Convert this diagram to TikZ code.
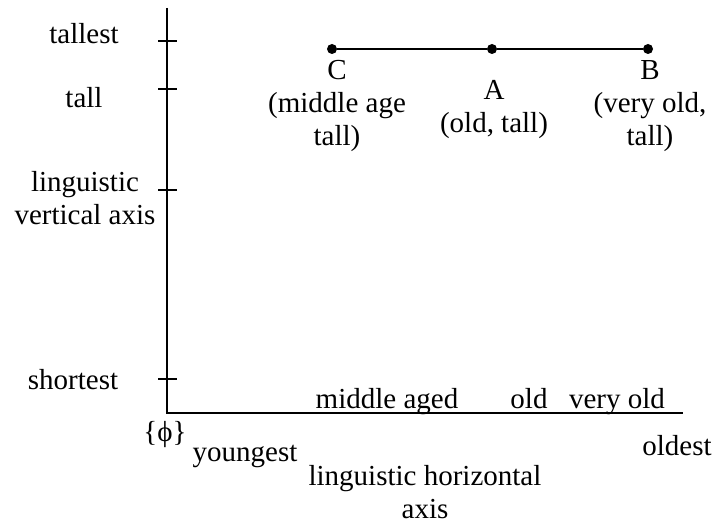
\documentclass[tikz,border=0pt]{standalone}
\usepackage{fontspec}
\setmainfont{Liberation Serif}
\usetikzlibrary{positioning}

\begin{document}
\begin{tikzpicture}[
  x=0.5pt, y=-0.5pt,
  txt/.style={font=\fontsize{14.5}{16.5}\selectfont, align=center, inner sep=0pt},
  wd/.style={txt, text height=10.2pt, text depth=3.2pt},
  pt/.style={circle, fill=black, inner sep=0pt, minimum size=5pt},
  ax/.style={line width=0.85pt},
  tk/.style={line width=0.8pt}
]
\useasboundingbox (0,0) rectangle (721,522);
% axes
\coordinate (orig) at (167,413);
\coordinate (ytop) at (167,8);
\coordinate (xend) at (683,413);
\draw[ax] (ytop) -- (orig) -- (xend);
\foreach \yy in {41,89,190,379}
  \draw[tk] (158,\yy) -- (177,\yy);

% vertical labels
\node[wd]  (tallest)  at (84,37)  {tallest};
\node[wd]  (tall)     at (84,101) {tall};
\node[txt] (vlabel)   at (85,198) {linguistic\\vertical axis};
\node[wd]  (shortest) at (73,383) {shortest};

% points
\node[pt] (C) at (332,49) {};
\node[pt] (A) at (492,49) {};
\node[pt] (B) at (648,49) {};
\draw[line width=0.7pt] (C) -- (A) -- (B);
\node[txt] (Clbl) at (337,106) {C\\(middle age\\tall)};
\node[txt] (Albl) at (494,110) {A\\(old, tall)};
\node[txt] (Blbl) at (650,106) {B\\(very old,\\tall)};

% horizontal labels
\node[wd] (middle) at (387,402) {middle aged};
\node[wd] (old)    at (529,402) {old};
\node[wd] (vold)   at (617,402) {very old};
\node[wd] (phi)    at (165,435) {\{ϕ\}};
\node[wd] (young)  at (245,454) {youngest};
\node[wd] (oldest) at (677,449) {oldest};
\node[txt] (hlabel) at (425,492) {linguistic horizontal\\axis};
\end{tikzpicture}
\end{document}
